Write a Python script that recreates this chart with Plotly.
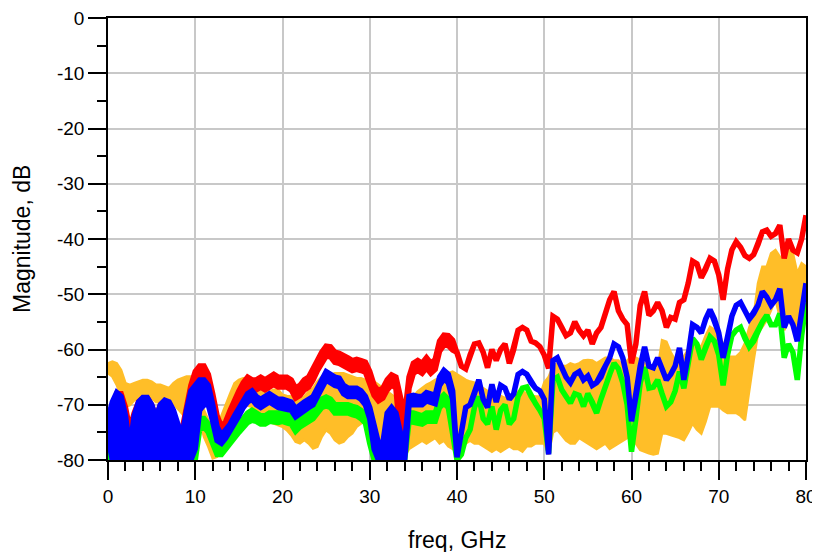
import plotly.graph_objects as go

# frequency grid, GHz (0 .. 80 in 0.5 GHz steps)
FREQ = [i * 0.5 for i in range(161)]

# ---- upper envelopes (dB), 0.5 GHz steps ----
RED_HI = [
    -72.5, -70, -68, -68, -70.5, -74.5, -71.5, -69.5, -68.8, -68.8, -70, -72.5, -70, -69.3, -69.8, -71.5, -74, -74.5, -70, -66.5,
    -64, -63, -63, -64.5, -68, -72, -74, -73, -71, -69, -67.5, -66, -65, -65.5, -65.5, -65, -65.5, -65, -64.5, -65,
    -65, -65, -65.5, -67, -66.5, -65.5, -65, -63.7, -62, -60.5, -59.4, -59.5, -60.5, -60.7, -61, -61.5, -62, -61.8, -62, -62.3,
    -64, -66.5, -67.5, -67, -65.5, -64.6, -65, -69, -72, -65, -62.5, -62, -62.5, -61.5, -62.5, -61.8, -58.5, -57.4, -57.5, -58.3,
    -60.5, -63, -63.5, -61, -59, -58.8, -60.5, -63.3, -60, -62, -60, -59, -62.5, -60, -56.5, -56, -56.5, -58.5, -58.8, -59.5,
    -61, -63.4, -54, -54.5, -56, -57.5, -57, -55, -56.5, -57.5, -56.5, -59, -57, -56, -53.5, -51, -49.5, -53, -54.5, -55.5,
    -62.5, -59, -52, -49.5, -53.8, -53, -51.5, -53, -56, -54.2, -54.5, -51.5, -51, -48, -44, -44.5, -47, -45.5, -43.5, -44,
    -46.5, -51, -45.5, -42, -40.5, -41.5, -43, -43.5, -42.8, -41, -38.7, -38.4, -39.5, -39, -37.5, -43.5, -40, -42, -42.5, -40, -35.7,
]
BLUE_HI = [
    -72.5, -69.5, -67.8, -68.5, -72, -78, -72, -69.5, -68.7, -68.7, -70, -72.3, -70, -69.2, -69.5, -71, -73.5, -75.5, -71, -67.5,
    -66.5, -65.5, -65.5, -66.5, -70, -74, -75.5, -74.5, -73.5, -72, -70.5, -69, -68, -67.5, -68.5, -69, -68.5, -68, -68.5, -69,
    -69, -69.3, -69.5, -70.7, -70, -69.5, -69, -68.5, -67, -65.5, -64, -64.5, -65, -65.2, -66.5, -67, -67, -67, -67.5, -68.5,
    -70.5, -73.5, -77, -77, -71.5, -70.5, -71.5, -75, -77, -68.5, -68.3, -68.5, -68.5, -67.8, -68, -68.3, -65, -63.8, -64.5, -67.5,
    -79.5, -75, -70.5, -70, -68, -65.5, -69, -70.5, -66.3, -69.5, -66.5, -67, -69, -68, -64.5, -64, -64.5, -66, -67, -67.5,
    -69, -79, -62, -61.5, -63.5, -65, -66, -64.5, -64, -65.5, -64.8, -66.5, -66, -65, -63, -61.5, -59, -59.5, -61.5, -65,
    -73, -68, -63, -59.5, -63, -63.3, -61.5, -63.5, -65.5, -64.5, -63, -59.7, -65.5, -61, -55.5, -56, -57, -54.5, -52.8, -54.5,
    -57, -61.5, -58, -54, -52, -51.5, -53, -54.5, -53.5, -52, -49.5, -50.5, -52, -51, -49, -56, -54, -55.5, -58.5, -52.5, -48,
]
GREEN_HI = [
    -76, -74, -72, -72, -76, -80, -76, -74, -73, -73, -74, -76, -74, -73, -74, -75, -77, -78, -76, -74,
    -73, -72.5, -72.5, -73.5, -75.5, -77.5, -77.5, -76.5, -75.5, -74.5, -73.5, -72.5, -71.5, -71, -71.5, -72, -72, -71.5, -71.5, -71.5,
    -71.2, -71.8, -72, -73.4, -72.5, -72, -71.5, -71, -70, -69, -68.6, -69, -70, -70, -70, -70, -70.3, -70.5, -71, -71.8,
    -75, -78, -80, -80, -76, -75, -76, -79, -80, -71.5, -71.5, -71.8, -72, -71.5, -71.5, -71.5, -69, -68.2, -69, -73,
    -80, -79, -76, -74.5, -70.5, -68.5, -72.5, -73.5, -70.3, -74.5, -71, -70, -73.5, -72.5, -68.5, -67, -66.8, -68.5, -69.8, -71,
    -72.5, -78.8, -65.5, -65, -67.3, -68.5, -69.7, -68, -68.3, -70.3, -68, -69.5, -71.5, -69, -66.5, -64.5, -62.5, -63.5, -66, -70,
    -78.5, -72.5, -66, -63.2, -67, -66.8, -65.5, -68, -70.3, -69.5, -67.5, -64, -67, -62.5, -58, -59, -61.8, -59.5, -57.7, -58.5,
    -61, -66.5, -61, -57.5, -56.5, -56, -58, -59.5, -58.5, -56.5, -55, -53.8, -55.5, -55.5, -53.5, -61.5, -59, -60.5, -65.5, -57.5, -51.5,
]
ORANGE_HI = [
    -62.5, -62.2, -62.5, -63.7, -66.1, -66.4, -66.1, -65.8, -65.5, -65.5, -65.8, -66.4, -66.4, -66.7, -67, -66.1, -65.5, -65.2, -64.9, -64.9,
    -65.2, -68.5, -71, -72.8, -74.6, -74, -71.9, -70.1, -68, -66.1, -65.5, -65.2, -65.2, -65.5, -66.4, -66.7, -67.3, -67.6, -67.3, -67.3,
    -68.2, -68.4, -68.5, -69.2, -69, -68.5, -67.6, -67, -65.8, -64.9, -64.6, -64.6, -64.3, -64.3, -64.3, -64.6, -64.9, -65.2, -65.2, -65.5,
    -65.5, -65.8, -66.4, -67, -67.6, -68.2, -68.8, -69.2, -69.5, -69.2, -68.5, -67.6, -67, -66.4, -66, -65.5, -65.2, -64.6, -64.3, -64,
    -64.5, -65, -65.5, -65.8, -66, -66.5, -67, -67.5, -67.6, -68, -68.5, -68.8, -68.5, -68, -67.6, -67.6, -68, -68.3, -68.5, -68.5,
    -66, -65, -63, -62.5, -63, -63, -62.5, -62.8, -62.5, -62, -61.9, -62, -62.5, -62, -61.5, -61.5, -62, -62, -63, -62,
    -61.3, -61.5, -61.9, -62.5, -63, -63.5, -63.7, -58.3, -58.6, -60.5, -61.9, -62, -61.3, -60, -58.3, -59, -59.5, -57.5, -55.9, -56.5,
    -57, -59, -61.3, -61.3, -61.3, -60.5, -58.9, -56, -54, -48, -45, -45, -42.6, -42, -43.2, -43.8, -40.8, -42.6, -46.2, -44.4, -45,
]

# ---- lower envelopes (dB); where a trace is a clean line, lower = upper ----
RED_LO = [
    -74, -80, -80, -80, -80, -80, -80, -80, -80, -80, -80, -80, -80, -80, -80, -80, -80, -80, -80, -80,
    -72, -66.5, -66, -67, -70, -74, -75.5, -74.5, -72.5, -70.5, -69, -67.8, -66.8, -67.3, -67.3, -66.8, -67.3, -66.8, -66.3, -66.8,
    -66.8, -66.8, -67.3, -68.8, -68.3, -67.3, -66.8, -65.5, -63.8, -62.3, -61.2, -61.3, -62.3, -62.5, -62.8, -63.3, -63.8, -63.6, -63.8, -64.1,
    -65.8, -68.3, -69.3, -68.8, -67.3, -66.4, -67, -76, -76, -67, -64.3, -63.8, -64.3, -63.3, -64.3, -63.6, -60.3, -59.2, -59.3, -60.1,
]
BLUE_LO = [
    -76, -80, -80, -80, -80, -80, -80, -80, -80, -80, -80, -80, -80, -80, -80, -80, -80, -80, -80, -80,
    -78, -71, -70, -70, -73, -76.5, -77, -76, -75, -73.5, -72, -70.5, -69.5, -69, -70, -70.5, -70, -69.5, -70, -70.5,
    -70.5, -70.8, -71, -72.2, -71.5, -71, -70.5, -70, -68.5, -67, -65.5, -66, -66.5, -66.7, -68, -68.5, -68.5, -68.5, -69, -70,
    -72.5, -78, -80, -80, -80, -80, -80, -80, -80, -70, -69.8, -70, -70, -69.3, -69.5, -69.8, -66.5, -65.3, -66, -69,
]
GREEN_LO = [
    -80, -80, -80, -80, -80, -80, -80, -80, -80, -80, -80, -80, -80, -80, -80, -80, -80, -80, -80, -80,
    -80, -74.5, -74, -75, -77, -79, -79, -78, -77, -76, -75, -74, -73.2, -72.8, -73, -73.5, -73.5, -73, -73, -73.2,
    -73, -73.3, -73.5, -74.8, -74, -73.5, -73, -72.5, -71.5, -70.5, -70.2, -70.5, -71.5, -71.5, -71.5, -71.5, -71.8, -72, -72.5, -73.3,
    -77, -80, -80, -80, -80, -80, -80, -80, -80, -73, -73, -73.3, -73.5, -73, -73, -73, -70.5, -69.7, -70.5, -74.5,
]
ORANGE_LO = [
    -64.3, -64.9, -66.4, -68.5, -70.4, -70.1, -69.2, -68.8, -68.5, -68.5, -68.8, -69.5, -69.5, -69.8, -70.1, -69.8, -70.7, -71.6, -70.4, -68.5,
    -70.4, -72.8, -75.8, -77.6, -79.7, -79.4, -76.4, -74.6, -72.8, -71, -69.8, -69.5, -70.1, -70.4, -71.6, -72.2, -72.8, -73.1, -73.4, -73.7,
    -74, -74.6, -75.5, -76.7, -77, -76.4, -77, -77.9, -77.6, -75.8, -74.6, -75.2, -76.4, -77, -76.7, -75.8, -75.2, -74, -73.4, -72.8,
    -72.8, -75.8, -77, -78.2, -78.8, -79.1, -79.4, -79.7, -79.4, -78, -77.5, -77, -76.5, -77, -76.5, -76, -77, -76.5, -77.5, -78,
    -77, -78, -77, -76.5, -77, -77, -77.5, -78, -78.5, -78, -78.5, -78, -77.5, -78, -78, -78.5, -77.5, -77.5, -77, -77,
    -77, -79, -75, -74.5, -75.5, -76.5, -77, -77, -76, -76.5, -77, -77.5, -78, -77.5, -77, -78, -77.5, -77, -76.5, -76,
    -75.2, -77, -78.2, -78.5, -78.8, -79, -78.8, -75.2, -75.2, -75.5, -75.8, -76, -76.4, -75, -73.4, -74.5, -75.2, -73, -70.3, -70.3,
    -70.3, -71, -71.5, -71.5, -71.5, -72, -72.8, -67, -61.9, -57, -55.9, -54.7, -52.8, -51, -54, -56.5, -54.7, -54.7, -57, -52.8, -48,
]

X_TICKS = [0, 10, 20, 30, 40, 50, 60, 70, 80]
Y_TICKS = [0, -10, -20, -30, -40, -50, -60, -70, -80]

SERIES = [
    ("orange", ORANGE_HI, ORANGE_LO, "#FFBE28", 2.5),
    ("red", RED_HI, RED_LO, "#FF0000", 5.5),
    ("green", GREEN_HI, GREEN_LO, "#00FF00", 5.5),
    ("blue", BLUE_HI, BLUE_LO, "#0000FF", 5.5),
]

fig = go.Figure()
for name, hi, lo_part, color, w in SERIES:
    lo = lo_part + hi[len(lo_part):]
    fig.add_trace(go.Scatter(
        x=FREQ + FREQ[::-1],
        y=hi + lo[::-1],
        mode="lines",
        fill="toself",
        fillcolor=color,
        line=dict(color=color, width=w),
        name=name,
        showlegend=False,
        hoverinfo="skip",
    ))

font_family = "Arial, Liberation Sans, sans-serif"
axis_common = dict(
    automargin=False,
    ticklabeloverflow="allow",
    showline=True, linecolor="#000000", linewidth=1.5, mirror=True,
    showgrid=True, gridcolor="#C8C8C8", gridwidth=1.5,
    zeroline=False,
    ticks="outside", ticklen=18, tickwidth=1.5, tickcolor="#000000",
    tickfont=dict(family=font_family, size=19, color="#000000"),
)

# the page body adds an 8 px offset, so margins are chosen to place the
# plot area at 108..806 x 18..460 in the window
fig.update_layout(
    width=820, height=552,
    margin=dict(l=100, r=22, t=10, b=100, autoexpand=False),
    paper_bgcolor="white", plot_bgcolor="white",
    xaxis=dict(range=[0, 80], tickvals=X_TICKS, ticktext=[str(v) for v in X_TICKS],
               minor=dict(dtick=2, tick0=0, ticks="outside", ticklen=9, tickwidth=1.5,
                          tickcolor="#000000", showgrid=False),
               **axis_common),
    yaxis=dict(range=[-80, 0], tickvals=Y_TICKS, ticktext=[str(v) for v in Y_TICKS],
               minor=dict(dtick=5, tick0=0, ticks="outside", ticklen=9, tickwidth=1.5,
                          tickcolor="#000000", showgrid=False),
               **axis_common),
    annotations=[
        dict(text="freq, GHz", xref="paper", yref="paper", x=0.5, y=-0.181,
             xanchor="center", yanchor="middle", showarrow=False,
             font=dict(family=font_family, size=23, color="#000000")),
        dict(text="Magnitude, dB", xref="paper", yref="paper", x=-0.1232, y=0.5,
             xanchor="center", yanchor="middle", showarrow=False, textangle=-90,
             font=dict(family=font_family, size=23, color="#000000")),
    ],
)

fig.write_html("out.html")
